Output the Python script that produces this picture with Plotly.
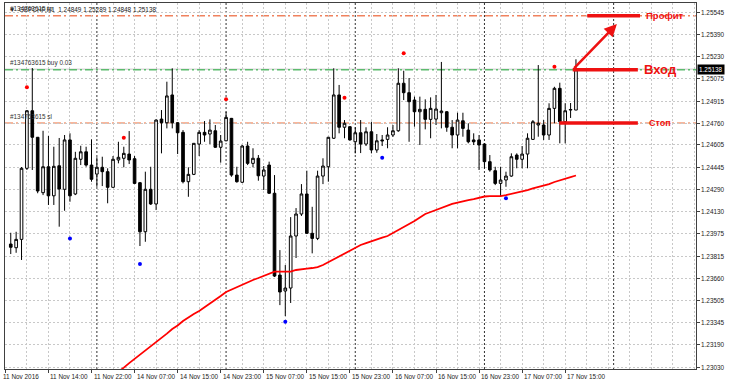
import plotly.graph_objects as go

# ---------------- data (GBPCHF H1) ----------------
bar_index = list(range(1, 107))
opens = [1.23902, 1.23876, 1.23935, 1.24439, 1.24847, 1.24659, 1.24266, 1.24450, 1.24244, 1.24457,
         1.24290, 1.24640, 1.24257, 1.24503, 1.24556, 1.24462, 1.24398, 1.24446, 1.24415, 1.24304,
         1.24498, 1.24510, 1.24540, 1.24507, 1.24337, 1.23989, 1.24290, 1.24186, 1.24788, 1.24762,
         1.24959, 1.24762, 1.24694, 1.24344, 1.24396, 1.24611, 1.24694, 1.24682, 1.24705, 1.24588,
         1.24634, 1.24793, 1.24391, 1.24340, 1.24597, 1.24474, 1.24510, 1.24384, 1.24462, 1.24262,
         1.23682, 1.23569, 1.23590, 1.23959, 1.24115, 1.24257, 1.23978, 1.23942, 1.24384, 1.24450,
         1.24652, 1.24959, 1.24730, 1.24734, 1.24627, 1.24691, 1.24611, 1.24698, 1.24569, 1.24640,
         1.24644, 1.24675, 1.24705, 1.25042, 1.24975, 1.24923, 1.24840, 1.24857, 1.24786, 1.24788,
         1.24833, 1.24840, 1.24730, 1.24675, 1.24776, 1.24710, 1.24640, 1.24640, 1.24611, 1.24486,
         1.24422, 1.24332, 1.24356, 1.24384, 1.24533, 1.24503, 1.24540, 1.24644, 1.24746, 1.24746,
         1.24675, 1.24864, 1.25006, 1.24769, 1.24852, 1.24852]
highs = [1.23982, 1.23989, 1.24448, 1.24852, 1.25150, 1.24661, 1.24705, 1.24668, 1.24592, 1.24654,
         1.24675, 1.24687, 1.24556, 1.24599, 1.24592, 1.24644, 1.24517, 1.24521, 1.24439, 1.24526,
         1.24627, 1.24592, 1.24703, 1.24526, 1.24342, 1.24415, 1.24450, 1.24786, 1.24852, 1.25053,
         1.25148, 1.24767, 1.24710, 1.24446, 1.24618, 1.24710, 1.24774, 1.24786, 1.24746, 1.24675,
         1.24840, 1.24796, 1.24450, 1.24604, 1.24627, 1.24581, 1.24533, 1.24455, 1.24486, 1.24391,
         1.23859, 1.23753, 1.24093, 1.24157, 1.24327, 1.24422, 1.24166, 1.24422, 1.24510, 1.24661,
         1.25148, 1.25030, 1.24781, 1.24739, 1.24730, 1.24781, 1.24730, 1.24769, 1.24682, 1.24675,
         1.24730, 1.24746, 1.25148, 1.25131, 1.25079, 1.24947, 1.24947, 1.24928, 1.24942, 1.24959,
         1.25193, 1.24845, 1.24781, 1.24833, 1.24833, 1.24758, 1.24687, 1.24675, 1.24616, 1.24533,
         1.24450, 1.24450, 1.24415, 1.24545, 1.24545, 1.24597, 1.24687, 1.24781, 1.25171, 1.24781,
         1.24900, 1.25017, 1.25046, 1.24900, 1.24902, 1.25212]
lows = [1.23831, 1.23840, 1.23789, 1.24427, 1.24427, 1.24262, 1.24249, 1.24179, 1.24179, 1.24025,
        1.24138, 1.24202, 1.24249, 1.24462, 1.24450, 1.24344, 1.24308, 1.24313, 1.24191, 1.24304,
        1.24474, 1.24446, 1.24469, 1.24327, 1.23888, 1.23918, 1.24179, 1.24143, 1.24545, 1.24722,
        1.24722, 1.24540, 1.24332, 1.24237, 1.24391, 1.24526, 1.24627, 1.24611, 1.24583, 1.24479,
        1.24632, 1.24379, 1.24337, 1.24335, 1.24462, 1.24446, 1.24351, 1.24285, 1.24257, 1.23668,
        1.23469, 1.23391, 1.23484, 1.23803, 1.24101, 1.23973, 1.23836, 1.23930, 1.24327, 1.24344,
        1.24647, 1.24687, 1.24652, 1.24636, 1.24545, 1.24547, 1.24597, 1.24545, 1.24549, 1.24597,
        1.24581, 1.24661, 1.24698, 1.24923, 1.24627, 1.24734, 1.24604, 1.24715, 1.24652, 1.24746,
        1.24722, 1.24698, 1.24581, 1.24581, 1.24663, 1.24616, 1.24604, 1.24427, 1.24439, 1.24415,
        1.24320, 1.24242, 1.24308, 1.24379, 1.24439, 1.24439, 1.24439, 1.24640, 1.24663, 1.24640,
        1.24640, 1.24758, 1.24616, 1.24616, 1.24796, 1.24852]
closes = [1.23879, 1.23935, 1.24439, 1.24847, 1.24659, 1.24278, 1.24450, 1.24244, 1.24453, 1.24292,
          1.24640, 1.24244, 1.24510, 1.24556, 1.24462, 1.24361, 1.24446, 1.24415, 1.24304, 1.24503,
          1.24517, 1.24545, 1.24498, 1.24332, 1.23989, 1.24290, 1.24186, 1.24781, 1.24762, 1.24952,
          1.24762, 1.24691, 1.24344, 1.24396, 1.24616, 1.24694, 1.24675, 1.24710, 1.24588, 1.24632,
          1.24800, 1.24391, 1.24344, 1.24597, 1.24474, 1.24510, 1.24386, 1.24427, 1.24262, 1.23675,
          1.23562, 1.23590, 1.23959, 1.24115, 1.24257, 1.23978, 1.23942, 1.24384, 1.24455, 1.24659,
          1.24959, 1.24730, 1.24758, 1.24640, 1.24691, 1.24611, 1.24698, 1.24569, 1.24634, 1.24634,
          1.24675, 1.24705, 1.25042, 1.24975, 1.24911, 1.24840, 1.24857, 1.24786, 1.24864, 1.24859,
          1.24845, 1.24730, 1.24675, 1.24781, 1.24722, 1.24627, 1.24627, 1.24604, 1.24486, 1.24427,
          1.24332, 1.24356, 1.24384, 1.24521, 1.24503, 1.24540, 1.24652, 1.24769, 1.24758, 1.24675,
          1.24864, 1.25006, 1.24769, 1.24847, 1.24856, 1.25138]

ma_start = 19
ma_values = [1.22938, 1.22966, 1.22994, 1.23026, 1.23058, 1.23087, 1.23118, 1.23150, 1.23179, 1.23207,
             1.23235, 1.23267, 1.23299, 1.23324, 1.23356, 1.23384, 1.23406, 1.23427, 1.23452, 1.23477,
             1.23505, 1.23533, 1.23562, 1.23579, 1.23597, 1.23615, 1.23633, 1.23647, 1.23661, 1.23675,
             1.23693, 1.23707, 1.23707, 1.23707, 1.23707, 1.23718, 1.23725, 1.23728, 1.23732, 1.23739,
             1.23753, 1.23774, 1.23796, 1.23817, 1.23835, 1.23856, 1.23877, 1.23895, 1.23909, 1.23923,
             1.23938, 1.23948, 1.23959, 1.23980, 1.23998, 1.24019, 1.24040, 1.24065, 1.24090, 1.24115,
             1.24129, 1.24143, 1.24161, 1.24175, 1.24186, 1.24196, 1.24207, 1.24214, 1.24221, 1.24232,
             1.24239, 1.24242, 1.24242, 1.24242, 1.24249, 1.24257, 1.24264, 1.24274, 1.24285, 1.24296,
             1.24306, 1.24317, 1.24327, 1.24342, 1.24352, 1.24367, 1.24377, 1.24388]

up_dot_idx = [4, 22, 41, 63, 74, 102]
up_dot_val = [1.25013, 1.24656, 1.24928, 1.24939, 1.25254, 1.25159]
down_dot_idx = [12, 25, 52, 70, 93]
down_dot_val = [1.23942, 1.23760, 1.23351, 1.24514, 1.24226]

order_tp = 1.25521
order_entry = 1.25138
order_sl = 1.24760
arrow_target = 1.25462

y_tick_vals = [1.25545, 1.25390, 1.25230, 1.25075, 1.24915, 1.24760, 1.24605, 1.24445, 1.24290,
               1.24130, 1.23975, 1.23815, 1.23660, 1.23505, 1.23345, 1.23190, 1.23030]
y_tick_text = ["%.5f" % v for v in y_tick_vals]

x_label_idx = [0, 8, 16, 24, 32, 40, 48, 56, 64, 72, 80, 88, 96, 104]
x_label_text = ["11 Nov 2016", "11 Nov 14:00", "11 Nov 22:00", "14 Nov 07:00", "14 Nov 15:00",
                "14 Nov 23:00", "15 Nov 07:00", "15 Nov 15:00", "15 Nov 23:00", "16 Nov 07:00",
                "16 Nov 15:00", "16 Nov 23:00", "17 Nov 07:00", "17 Nov 15:00"]
day_sep_idx = [17, 41, 65, 89, 113]

header = "GBPCHF,H1  1.24849 1.25289 1.24848 1.25138"

# ---------------- figure ----------------
FONT = "Liberation Sans"
X_RANGE = [-0.07, 128.3]
Y_RANGE = [1.23016, 1.25611]

fig = go.Figure()

fig.add_trace(go.Scatter(
    x=list(range(ma_start, ma_start + len(ma_values))), y=ma_values,
    mode="lines", line=dict(color="#FF0000", width=1.8), hoverinfo="skip", showlegend=False))

fig.add_trace(go.Candlestick(
    x=bar_index, open=opens, high=highs, low=lows, close=closes,
    increasing=dict(line=dict(color="#000000", width=1), fillcolor="#FFFFFF"),
    decreasing=dict(line=dict(color="#000000", width=1), fillcolor="#000000"),
    whiskerwidth=0, hoverinfo="skip", showlegend=False))

fig.add_trace(go.Scatter(x=up_dot_idx, y=up_dot_val, mode="markers",
                         marker=dict(color="#FF0000", size=4), hoverinfo="skip", showlegend=False))
fig.add_trace(go.Scatter(x=down_dot_idx, y=down_dot_val, mode="markers",
                         marker=dict(color="#0000FF", size=4), hoverinfo="skip", showlegend=False))

shapes = []
for d in day_sep_idx:
    shapes.append(dict(type="line", xref="x", yref="paper", x0=d, x1=d, y0=0, y1=1,
                       line=dict(color="#303030", width=1, dash="2px,2px"), layer="below"))
shapes.append(dict(type="line", xref="paper", yref="y", x0=0, x1=1, y0=order_tp, y1=order_tp,
                   line=dict(color="#F0825E", width=1.5, dash="8px,3px,2px,3px"), layer="below"))
shapes.append(dict(type="line", xref="paper", yref="y", x0=0, x1=1, y0=order_entry + 0.00004,
                   y1=order_entry + 0.00004, line=dict(color="#C8C8C8", width=1), layer="below"))
shapes.append(dict(type="line", xref="paper", yref="y", x0=0, x1=1, y0=order_entry, y1=order_entry,
                   line=dict(color="#5DBB6E", width=1.5, dash="8px,3px,2px,3px"), layer="below"))
shapes.append(dict(type="line", xref="paper", yref="y", x0=0, x1=1, y0=order_sl, y1=order_sl,
                   line=dict(color="#F4A07E", width=1.5, dash="8px,3px,2px,3px"), layer="below"))
RED = "#EE1111"
shapes.append(dict(type="line", xref="x", yref="y", x0=108.1, x1=117.9, y0=order_tp, y1=order_tp,
                   line=dict(color=RED, width=3.5)))
shapes.append(dict(type="line", xref="x", yref="y", x0=105.4, x1=117.5, y0=order_entry, y1=order_entry,
                   line=dict(color=RED, width=3.5)))
shapes.append(dict(type="line", xref="x", yref="y", x0=102.9, x1=117.5, y0=order_sl, y1=order_sl,
                   line=dict(color=RED, width=3.5)))

annotations = []
for i, t in zip(x_label_idx, x_label_text):
    annotations.append(dict(x=i, xref="x", y=0, yref="paper", text=t, showarrow=False,
                            xanchor="left", yanchor="top", xshift=(-4 if i == 0 else 0), yshift=-2,
                            font=dict(family=FONT, size=6.4, color="#222222")))
for v, t in zip(y_tick_vals, y_tick_text):
    annotations.append(dict(x=1, xref="paper", y=v, yref="y", text=t, showarrow=False,
                            xanchor="left", yanchor="middle", xshift=3,
                            font=dict(family=FONT, size=6.4, color="#222222")))
annotations.append(dict(x=0, xref="paper", y=1, yref="paper", text="▼  " + header, showarrow=False,
                        xanchor="left", yanchor="top", xshift=2, yshift=-1,
                        font=dict(family=FONT, size=6.4, color="#222222")))
for txt, val in [("#134763615 tp", order_tp), ("#134763615 buy 0.03", order_entry),
                 ("#134763615 sl", order_sl)]:
    annotations.append(dict(x=0, xref="paper", y=val, yref="y", text=txt, showarrow=False,
                            xanchor="left", yanchor="bottom", xshift=3, yshift=1,
                            font=dict(family=FONT, size=6.4, color="#333333")))
annotations.append(dict(x=1, xref="paper", y=order_entry, yref="y", text="1.25138", showarrow=False,
                        xanchor="left", yanchor="middle", xshift=1, bgcolor="#000000", borderpad=1,
                        font=dict(family=FONT, size=6.4, color="#FFFFFF")))
annotations.append(dict(x=113.6, y=arrow_target, xref="x", yref="y", ax=105.4, ay=order_entry,
                        axref="x", ayref="y", text="", showarrow=True, arrowhead=2, arrowsize=1,
                        arrowwidth=2.5, arrowcolor=RED))
for txt, xi, val, sz in [("Профит", 118.7, order_tp, 9.5), ("Вход", 118.3, order_entry, 13),
                         ("Стоп", 119.2, order_sl, 9)]:
    annotations.append(dict(x=xi, xref="x", y=val, yref="y", text="<b>" + txt + "</b>", showarrow=False,
                            xanchor="left", yanchor="middle",
                            font=dict(family=FONT, size=sz, color=RED)))

major_x = x_label_idx
minor_x = [v for v in range(4, 129, 4) if v not in major_x]

fig.update_layout(
    width=729, height=384,
    margin=dict(l=5, r=33, t=3, b=15, pad=0),
    paper_bgcolor="#FFFFFF", plot_bgcolor="#FFFFFF",
    boxgap=0.3,
    shapes=shapes, annotations=annotations,
    showlegend=False,
    xaxis=dict(range=X_RANGE, rangeslider=dict(visible=False), tickmode="array", tickvals=major_x,
               ticktext=[""] * len(major_x), ticks="outside", ticklen=3, tickcolor="#404040",
               showgrid=True, gridcolor="#C8C8C8", griddash="2px,2px", gridwidth=1,
               minor=dict(tickmode="array", tickvals=minor_x, showgrid=True, gridcolor="#C8C8C8",
                          griddash="2px,2px", ticks=""),
               showline=True, linecolor="#404040", linewidth=1, mirror=True, zeroline=False,
               fixedrange=True),
    yaxis=dict(range=Y_RANGE, side="right", tickmode="array", tickvals=y_tick_vals,
               ticktext=[""] * len(y_tick_vals), ticks="outside", ticklen=3, tickcolor="#404040",
               showgrid=True, gridcolor="#C8C8C8", griddash="2px,2px", gridwidth=1,
               showline=True, linecolor="#404040", linewidth=1, mirror=True, zeroline=False,
               fixedrange=True),
)

fig.write_html("out.html", config={"displayModeBar": False},
               post_script="document.body.style.margin='0px';document.body.style.overflow='hidden';")
